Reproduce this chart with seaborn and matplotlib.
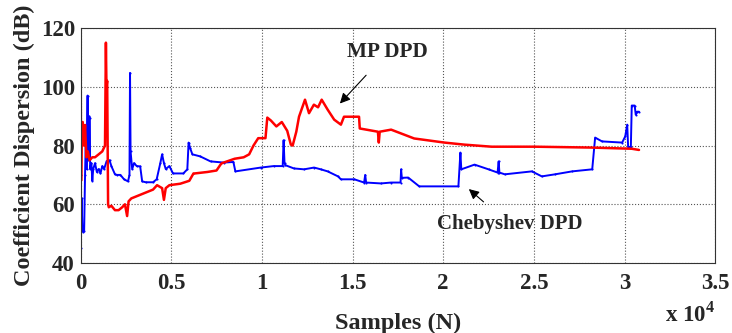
import matplotlib
matplotlib.use("Agg")
import matplotlib.pyplot as plt
import seaborn as sns
import pandas as pd

# MP DPD (red) - breakpoints
mp_x = [0, 30, 60, 120, 180, 250, 320, 400, 500, 650, 800, 1000, 1200, 1350, 1400, 1430,
        1470, 1520, 1560, 1700, 1900, 2100, 2300, 2450, 2570, 2650, 2800, 3200, 3600, 4000,
        4220, 4500, 4600, 4700, 4900, 5500, 6000, 6230, 6300, 7000, 7500, 7720, 7800, 8500,
        9000, 9300, 9540, 9800, 10200, 10300, 10500, 10800, 11100, 11400, 11600, 11700, 11900,
        12050, 12380, 12600, 12870, 13100, 13300, 13630, 13990, 14360, 14530, 15360, 15400,
        16400, 16450, 16500, 17130, 18400, 20070, 21170, 22670, 25050, 28200, 30400, 30800]
mp_y = [120, 68, 82, 88, 80, 87, 76, 78, 75, 76, 76, 77, 78, 80, 115, 100,
        102, 60, 59, 59.5, 58, 58, 59, 60, 56, 61, 62, 63, 64, 65,
        66.5, 65.5, 61.5, 65.5, 66.5, 67, 68, 70.5, 70.5, 71, 71.5, 73.5, 74, 75.5,
        76, 77, 80, 82.5, 82.5, 89.5, 88.5, 86.5, 88, 85, 80.3, 80, 84.7,
        89.8, 95.6, 91, 93.9, 93, 95.6, 92.2, 88.8, 87.1, 89.8, 89.8, 85.8,
        84.7, 81, 84.7, 85.4, 82.4, 81, 80.3, 79.6, 79.6, 79.3, 78.9, 78.5]

# Chebyshev DPD (blue)
ch_x = [0, 0, 30, 60, 100, 150, 200, 250, 300, 330, 390, 420, 450, 515, 530, 600, 650, 700,
        800, 900, 1000, 1100, 1200, 1300, 1440, 1600, 1700, 1900, 2000, 2200, 2400, 2620,
        2700, 2730, 2760, 2850, 2950, 3100, 3290, 3400, 3600, 4000, 4200, 4400, 4500, 4600,
        4700, 4900, 5100, 5670, 5890, 5960, 6050, 6170, 6600, 7170, 7890, 8430, 8540, 9940,
        10650, 11150, 11200, 11250, 11300, 11770, 12330, 12880, 13250, 13630, 14200, 14360,
        15100, 15640, 15700, 15750, 16570, 17130, 17650, 17680, 17720, 18070, 18680, 20840,
        20950, 21000, 21730, 22500, 23000, 23060, 23100, 23400, 24890, 25440, 26170, 27110,
        28220, 28380, 28760, 29870, 30040, 30150, 30200, 30350, 30400, 30560, 30620, 30700, 30800]
ch_y = [45, 70, 55, 62, 52, 50.5, 51, 70, 85, 72, 97, 75, 90, 89.5, 72, 74, 68, 72,
        74, 71, 72, 70.5, 73, 72, 74.7, 75, 73, 70.2, 70, 70, 68.5, 67.8,
        70, 104.7, 78, 72, 74, 73, 72.9, 67.8, 67.5, 67.5, 68.5, 74, 77, 74,
        72, 73, 70.5, 70.5, 71.9, 81, 79, 77, 76.3, 74.6, 74.2, 74.4, 71.2, 72.5,
        73, 73, 81.8, 74, 73.3, 72.2, 71.9, 72.5, 71.9, 71.2, 69.5, 68.5,
        68.5, 67.4, 70, 67.4, 67.1, 67.4, 67.4, 71.9, 69, 69.1, 66.1, 66.1,
        77.6, 71.9, 73.5, 71.9, 70.8, 74.6, 70.8, 70.2, 71.2, 69.5, 70.2, 71.2,
        71.9, 82.7, 81.4, 81, 83.1, 87.1, 79.5, 79.5, 93.6, 93.6, 90.5, 91.5, 91.5]

xticks = [0, 5000, 10000, 15000, 20000, 25000, 30000, 35000]
xtick_labels = ['0', '0.5', '1', '1.5', '2', '2.5', '3', '3.5']
yticks = [40, 60, 80, 100, 120]

sns.set_style("white")
plt.rcParams['font.family'] = ['Liberation Serif', 'DejaVu Serif']
plt.rcParams['font.weight'] = 'bold'
plt.rcParams['mathtext.fontset'] = 'custom'
plt.rcParams['mathtext.rm'] = 'Liberation Serif:bold'
plt.rcParams['mathtext.bf'] = 'Liberation Serif:bold'

mp = pd.DataFrame({'x': mp_x, 'y': mp_y})
ch = pd.DataFrame({'x': ch_x, 'y': ch_y})

fig = plt.figure(figsize=(7.32, 3.33), dpi=100)
ax = fig.add_axes([0.110, 0.210, 0.867, 0.706])

sns.lineplot(data=ch, x='x', y='y', sort=False, estimator=None, color='#0000ff',
             lw=1.4, marker='.', markersize=3, markeredgewidth=0, ax=ax)
sns.lineplot(data=mp, x='x', y='y', sort=False, estimator=None, color='#ff0000',
             lw=1.8, ax=ax)

ax.set_xlim(0, 35000)
ax.set_ylim(40, 120)
ax.set_xticks(xticks)
ax.set_xticklabels(xtick_labels)
ax.set_yticks(yticks)
ax.tick_params(axis='both', direction='in', labelsize=16.5, length=4)
ax.tick_params(axis='x', pad=7)
ax.tick_params(axis='y', pad=4)
for lab in ax.get_xticklabels() + ax.get_yticklabels():
    lab.set_fontweight('bold')
ax.grid(True, linestyle=':', color='#555555', lw=0.8)
for s in ax.spines.values():
    s.set_color('#333333')
    s.set_linewidth(0.8)

ax.set_xlabel('Samples (N)', fontsize=17.5, fontweight='bold', labelpad=14)
ax.set_ylabel('Coefficient Dispersion (dB)', fontsize=17.5, fontweight='bold', labelpad=4)
fig.text(0.942, 0.035, r'x 10$^{4}$', fontsize=16.5, fontweight='bold', ha='center')

ax.annotate('MP DPD', xy=(14200, 93.6), xytext=(16950, 111.9), fontsize=15.3,
            fontweight='bold', ha='center', va='center',
            arrowprops=dict(arrowstyle='-|>', color='black', lw=0.8, shrinkA=10))
ax.annotate('Chebyshev DPD', xy=(21300, 65.8), xytext=(23650, 53.2), fontsize=15,
            fontweight='bold', ha='center', va='center',
            arrowprops=dict(arrowstyle='-|>', color='black', lw=0.8, shrinkA=10))

fig.savefig('out.png', dpi=100)
